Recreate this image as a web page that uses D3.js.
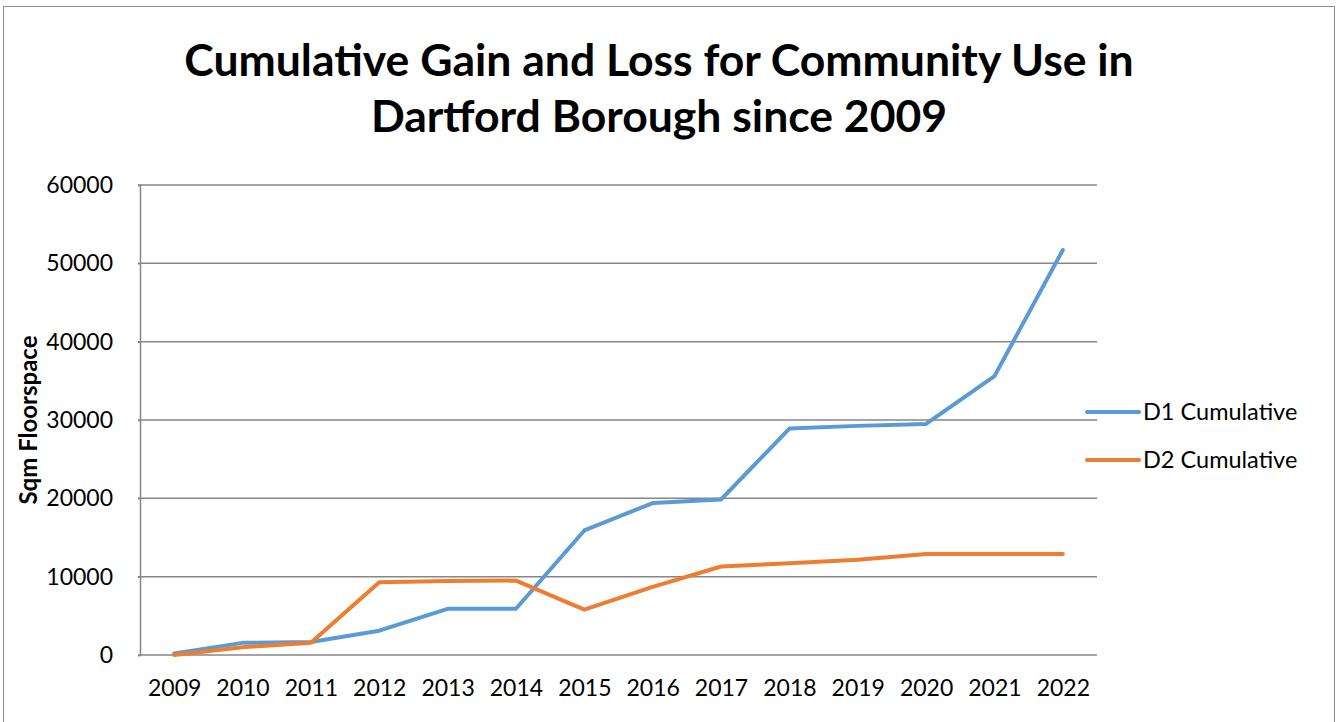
<!DOCTYPE html>
<html>
<head>
<meta charset="utf-8">
<script src="https://cdn.jsdelivr.net/npm/d3@7"></script>
<style>
  html, body { margin: 0; padding: 0; background: #fff; }
  svg { display: block; }
  text { font-family: Lato, "Open Sans", "Liberation Sans", sans-serif; fill: #000; }
</style>
</head>
<body>
<svg id="chart" width="1338" height="722"></svg>
<script>
// Years shown along the category axis
const years = ["2009", "2010", "2011", "2012", "2013", "2014", "2015",
               "2016", "2017", "2018", "2019", "2020", "2021", "2022"];

// Cumulative floorspace (sqm) for each use class
const d1Cumulative = [200, 1550, 1650, 3100, 5900, 5900, 15900,
                      19400, 19850, 28900, 29250, 29500, 35600, 51700];
const d2Cumulative = [0, 1000, 1550, 9300, 9450, 9500, 5800,
                      8700, 11300, 11700, 12150, 12900, 12900, 12900];

const yTicks = [0, 10000, 20000, 30000, 40000, 50000, 60000];
const seriesNames = ["D1 Cumulative", "D2 Cumulative"];
const seriesColors = ["#5B9BD5", "#ED7D31"];
const titleLines = ["Cumulative Gain and Loss for Community Use in",
                    "Dartford Borough since 2009"];
const yAxisTitle = "Sqm Floorspace";

const svg = d3.select("#chart");
const W = 1338, H = 722;
const plot = { left: 140, right: 1097, top: 185, bottom: 655 };
const FONT = "Lato, 'Open Sans', sans-serif";

// Outer chart frame
svg.append("rect")
  .attr("x", 3.5).attr("y", 6.5)
  .attr("width", W - 7).attr("height", H + 10)
  .attr("fill", "#fff").attr("stroke", "#8c8c8c").attr("stroke-width", 1);

const x = d3.scalePoint().domain(years)
  .range([plot.left, plot.right]).padding(0.5);
const y = d3.scaleLinear().domain([0, 60000])
  .range([plot.bottom, plot.top]);

// Horizontal gridlines
svg.append("g")
  .selectAll("line").data(yTicks.filter(d => d > 0)).join("line")
  .attr("x1", plot.left - 2).attr("x2", plot.right)
  .attr("y1", d => y(d)).attr("y2", d => y(d))
  .attr("stroke", "#868686").attr("stroke-width", 1.5);

// Y axis
const yAxis = d3.axisLeft(y).tickValues(yTicks).tickSize(2).tickPadding(25)
  .tickFormat(d3.format("d"));
const gy = svg.append("g").attr("transform", `translate(${plot.left},0)`).call(yAxis);
gy.select(".domain").attr("stroke", "#868686").attr("stroke-width", 1.5);
gy.selectAll(".tick line").attr("stroke", "#868686").attr("stroke-width", 1.5);
gy.selectAll(".tick text").attr("font-size", 23)
  .attr("font-family", FONT).attr("fill", "#000");

// X axis
const xAxis = d3.axisBottom(x).tickSize(0).tickPadding(25);
const gx = svg.append("g").attr("transform", `translate(0,${plot.bottom})`).call(xAxis);
gx.select(".domain").attr("d", `M${plot.left - 2},0H${plot.right}`)
  .attr("stroke", "#868686").attr("stroke-width", 1.5);
gx.selectAll(".tick text").attr("font-size", 23)
  .attr("font-family", FONT).attr("fill", "#000");

// Series lines
const line = d3.line().x((d, i) => x(years[i])).y(d => y(d));
[d1Cumulative, d2Cumulative].forEach((vals, k) => {
  svg.append("path").datum(vals)
    .attr("d", line)
    .attr("fill", "none")
    .attr("stroke", seriesColors[k])
    .attr("stroke-width", 4)
    .attr("stroke-linejoin", "round")
    .attr("stroke-linecap", "round");
});

// Title
svg.append("text")
  .attr("text-anchor", "middle")
  .attr("font-size", 44.5).attr("font-weight", "bold")
  .selectAll("tspan").data(titleLines).join("tspan")
  .attr("x", 659).attr("y", (d, i) => 76 + i * 56)
  .text(d => d);

// Y axis title
svg.append("text")
  .attr("transform", "translate(37,420) rotate(-90)")
  .attr("text-anchor", "middle")
  .attr("font-size", 24).attr("font-weight", "bold")
  .text(yAxisTitle);

// Legend
const legend = svg.append("g").attr("transform", "translate(1087,412)");
seriesNames.forEach((name, k) => {
  const g = legend.append("g").attr("transform", `translate(0,${k * 48})`);
  g.append("line").attr("x1", 0).attr("x2", 52).attr("y1", 0).attr("y2", 0)
    .attr("stroke", seriesColors[k]).attr("stroke-width", 4)
    .attr("stroke-linecap", "round");
  g.append("text").attr("x", 56).attr("y", 0).attr("dy", "0.35em")
    .attr("font-size", 23.5).text(name);
});
</script>
</body>
</html>
